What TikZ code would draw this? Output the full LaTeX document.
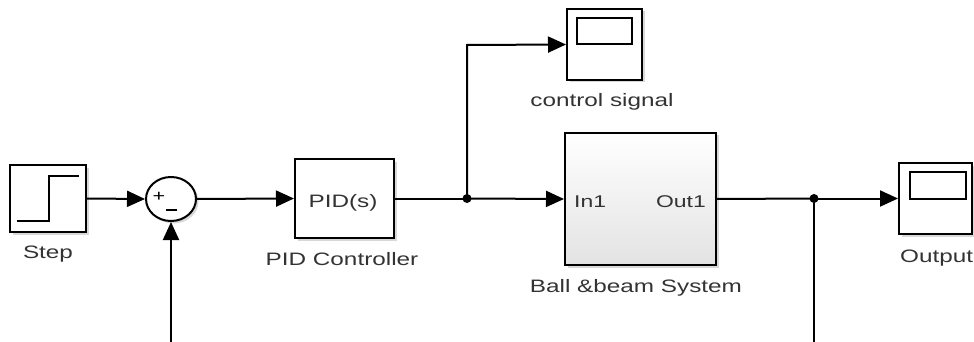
\documentclass[tikz,border=0pt]{standalone}
\usepackage{fontspec}
\setmainfont{Liberation Sans}[FakeStretch=1.35]
\usetikzlibrary{arrows.meta,shadows,shapes.geometric}
\definecolor{txtgray}{HTML}{333333}
\begin{document}
\begin{tikzpicture}[x=1pt,y=-1pt,
  blk/.style={draw=black, line width=2pt, fill=white, inner sep=0pt,
    drop shadow={shadow xshift=2.5pt, shadow yshift=-2.5pt, opacity=0.3, fill=gray}},
  lbl/.style={text=txtgray, font=\fontsize{18}{20}\selectfont, anchor=base, inner sep=0pt},
  inlbl/.style={text=txtgray, font=\fontsize{17}{20}\selectfont, anchor=base, inner sep=0pt},
  wire/.style={line width=2pt, draw=black},
  arr/.style={wire, -{Triangle[length=18pt,width=16pt]}},
  jdot/.style={circle, fill=black, inner sep=0pt, minimum size=9pt},
  thin/.style={line width=1.6pt, draw=black}]
\useasboundingbox (0,0) rectangle (974,342);
\fill[white] (0,0) rectangle (974,342);

% Step block
\node[blk, minimum width=76pt, minimum height=67pt] (step) at (48,198.5) {};
\draw[thin] (17,221) -- (49,221) -- (49,176) -- (79,176);
\node[lbl] (steplbl) at (48,258) {Step};

% Sum
\node[blk, ellipse, minimum width=50pt, minimum height=44pt] (sum) at (171,199) {};
\node[text=black, font=\fontsize{16}{16}\selectfont, inner sep=0pt] (plus) at (159,197) {+};
\draw[line width=1.6pt] (166,210) -- (177,210);

% PID
\node[blk, minimum width=99pt, minimum height=79pt] (pid) at (344.5,198.5) {};
\node[lbl] (pidtxt) at (343,207) {PID(s)};
\node[lbl] (pidlbl) at (342,265) {PID Controller};

% control signal scope
\node[blk, minimum width=75pt, minimum height=71pt] (scope1) at (604.5,44.5) {};
\draw[thin] (577,18) rectangle (632,44);
\node[lbl] (scope1lbl) at (602,107) {control signal};

% Ball & beam
\node[draw=black, line width=2pt, top color=white, bottom color=gray!22, inner sep=0pt,
  drop shadow={shadow xshift=2.5pt, shadow yshift=-2.5pt, opacity=0.3, fill=gray},
  minimum width=151pt, minimum height=132pt] (ball) at (640.5,199) {};
\node[inlbl, anchor=base west] (in1) at (574,207) {In1};
\node[inlbl, anchor=base east] (out1) at (706,207) {Out1};
\node[lbl] (balllbl) at (636,292) {Ball \&beam System};

% Output scope
\node[blk, minimum width=73pt, minimum height=71pt] (scope2) at (935.5,198.5) {};
\draw[thin] (910,172) rectangle (966,199);
\node[lbl, anchor=base west] (outlbl) at (900,262) {Output};

% junctions
\node[jdot] (j1) at (467,198.5) {};
\node[jdot] (j2) at (814,198.5) {};
\coordinate (fb1) at (171,342);
\coordinate (fb2) at (814,342);
\coordinate (up) at (467,45);

% wires
\draw[arr] (step.east) -- (sum.west);
\draw[arr] (fb1) -- (sum.south);
\draw[arr] (sum.east) -- (pid.west);
\draw[wire] (pid.east) -- (j1.center);
\draw[arr] (j1.center) -- (ball.west);
\draw[arr] (j1.center) -- (up) -- (scope1.west);
\draw[wire] (ball.east) -- (j2.center);
\draw[arr] (j2.center) -- (scope2.west);
\draw[wire] (j2.center) -- (fb2);
\end{tikzpicture}
\end{document}
